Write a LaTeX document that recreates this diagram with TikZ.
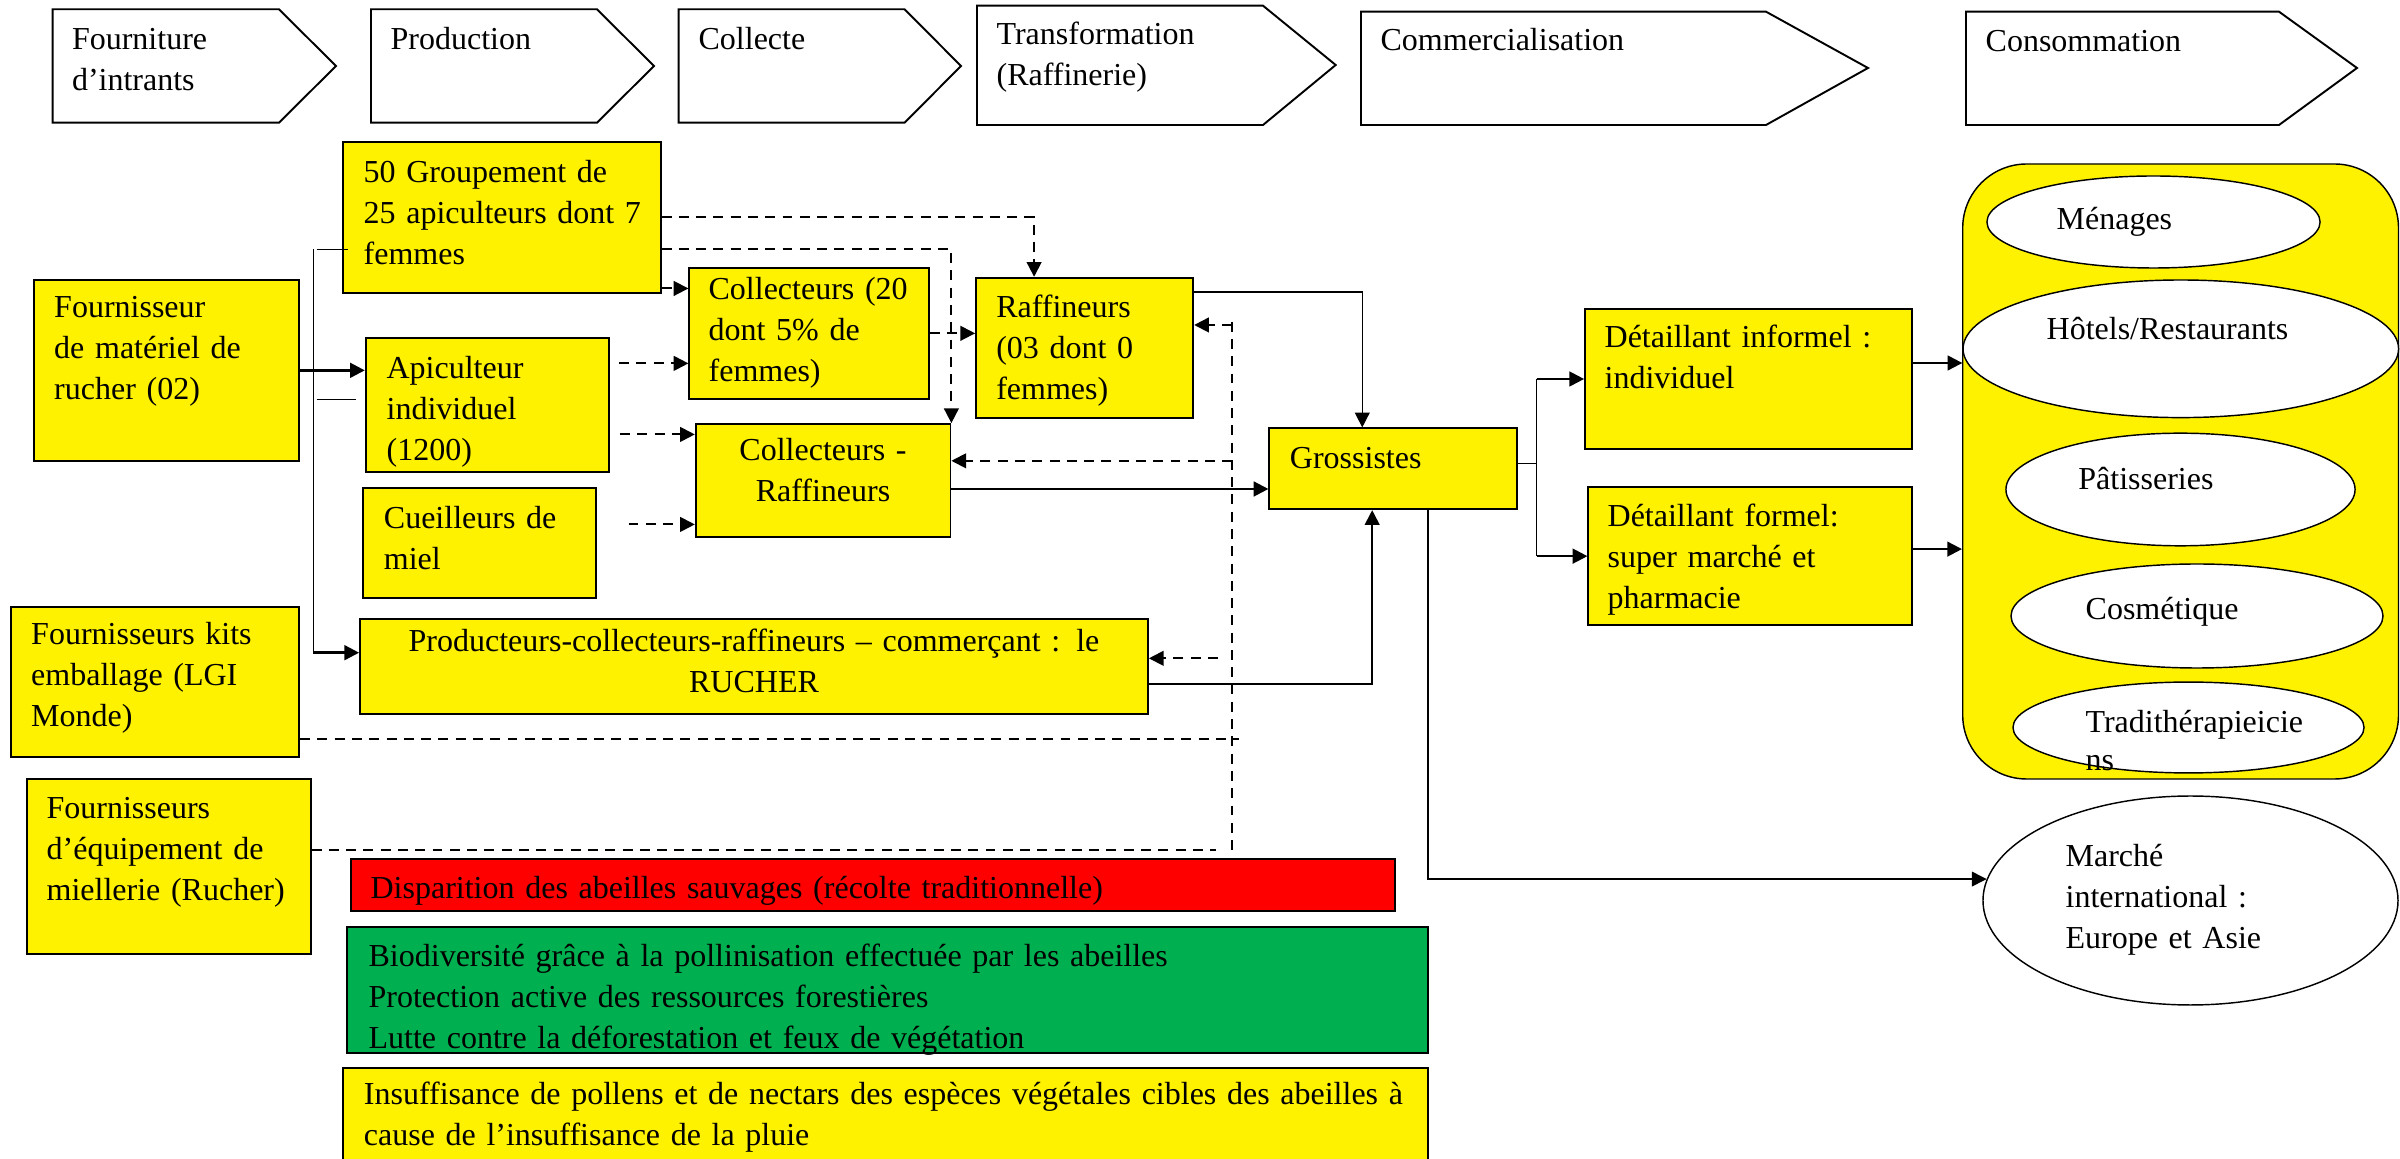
\documentclass[tikz,border=0pt]{standalone}
\usepackage{fontspec}
\setmainfont{Liberation Serif}
\usetikzlibrary{positioning,fit,arrows.meta,shapes.geometric}
\definecolor{vert}{HTML}{00B050}

\begin{document}
\begin{tikzpicture}[x=0.3125pt, y=-0.3125pt, >={Triangle[length=4.6pt,width=4.6pt]},
    font=\fontsize{10}{12.8}\selectfont,
    box/.style={draw, line width=0.55pt, fill=yellow, inner sep=0pt},
    txt/.style={anchor=base west, inner sep=0pt, text width=420pt, align=left},
    stage/.style={draw, line width=0.6pt, fill=white},
    oval/.style={draw, ellipse, line width=0.45pt, fill=white, inner sep=0pt},
    link/.style={line width=0.45pt},
    dsh/.style={line width=0.6pt, dash pattern=on 3.1pt off 2.3pt}]
  \useasboundingbox (0,0) rectangle (2400,1159);

  % value chain stages
  \draw[stage] (52.6,9.3) -- (279,9.3) -- (336,66) -- (279,122.7) -- (52.6,122.7) -- cycle;
  \draw[stage] (371,9.3) -- (597,9.3) -- (654,66) -- (597,122.7) -- (371,122.7) -- cycle;
  \draw[stage] (678.6,9.3) -- (904.6,9.3) -- (961,66) -- (904.6,122.7) -- (678.6,122.7) -- cycle;
  \draw[stage] (977,5.7) -- (1263,5.7) -- (1335.7,65) -- (1263,125) -- (977,125) -- cycle;
  \draw[stage] (1361,11.7) -- (1766,11.7) -- (1868,68) -- (1766,125) -- (1361,125) -- cycle;
  \draw[stage] (1966,11.7) -- (2279,11.7) -- (2357,68) -- (2279,125) -- (1966,125) -- cycle;
  \node[txt] (st-four) at (71.4,50) {Fourniture\\d’intrants};
  \node[txt] (st-prod) at (390,50) {Production};
  \node[txt] (st-coll) at (698,50) {Collecte};
  \node[txt] (st-trans) at (996,45) {Transformation\\(Raffinerie)};
  \node[txt] (st-comm) at (1380,51) {Commercialisation};
  \node[txt] (st-cons) at (1985,52) {Consommation};

  % actors
  \node[box, fit={(34,280) (299.3,460.7)}] (fmr) {};
  \node[txt] (fmr-t) at (53.6,318) {Fournisseur\\de matériel de\\rucher (02)};
  \node[box, fit={(11,606.7) (299.3,756.7)}] (fkit) {};
  \node[txt] (fkit-t) at (30.6,645) {Fournisseurs kits\\emballage (LGI\\Monde)};
  \node[box, fit={(27,779) (310.7,954)}] (feq) {};
  \node[txt] (feq-t) at (46,818.3) {Fournisseurs\\d’équipement de\\miellerie (Rucher)};
  \node[box, fit={(343.3,141.7) (660.7,292.7)}] (grp) {};
  \node[txt] (grp-t) at (363,183) {50 Groupement de\\25 apiculteurs dont 7\\femmes};
  \node[box, fit={(365.7,337.7) (609,472.3)}] (api) {};
  \node[txt] (api-t) at (386,378.3) {Apiculteur\\individuel\\(1200)};
  \node[box, fit={(363,488.3) (596,597.7)}] (cue) {};
  \node[txt] (cue-t) at (383.3,528.3) {Cueilleurs de\\miel};
  \node[box, fit={(360,619.3) (1148,714)}] (prod) {};
  \node[txt, anchor=base, text width=240pt, align=center] (prod-t) at (754,652) {Producteurs-collecteurs-raffineurs – commerçant : le\\RUCHER};
  \node[box, fit={(689.3,267.7) (929,399)}] (col) {};
  \node[txt] (col-t) at (708,300) {Collecteurs (20\\dont 5\% de\\femmes)};
  \node[box, fit={(695.7,424) (950.5,536.7)}] (colraf) {};
  \node[txt, anchor=base, text width=75pt, align=center] (colraf-t) at (823,461) {Collecteurs -\\Raffineurs};
  \node[box, fit={(976,277.7) (1193.3,417.7)}] (raf) {};
  \node[txt] (raf-t) at (995.6,318) {Raffineurs\\(03 dont 0\\femmes)};
  \node[box, fit={(1269.3,428.3) (1517.3,509.3)}] (gros) {};
  \node[txt] (gros-t) at (1289.3,468.3) {Grossistes};
  \node[box, fit={(1585,309) (1912,449)}] (detinf) {};
  \node[txt] (detinf-t) at (1604,348) {Détaillant informel :\\individuel};
  \node[box, fit={(1588.3,487.3) (1912,625)}] (detfor) {};
  \node[txt] (detfor-t) at (1607,527) {Détaillant formel:\\super marché et\\pharmacie};

  % impacts
  \node[box, fill=red, fit={(351,859) (1395,911)}] (disp) {};
  \node[txt] (disp-t) at (370,898.3) {Disparition des abeilles sauvages (récolte traditionnelle)};
  \node[box, fill=vert, fit={(347.3,927) (1428,1053.3)}] (bio) {};
  \node[txt] (bio-t) at (368,966.7) {Biodiversité grâce à la pollinisation effectuée par les abeilles\\Protection active des ressources forestières\\Lutte contre la déforestation et feux de végétation};
  \node[box, fit={(343.3,1068.3) (1428,1180)}] (insuf) {};
  \node[txt] (insuf-t) at (363.3,1105) {Insuffisance de pollens et de nectars des espèces végétales cibles des abeilles à\\cause de l’insuffisance de la pluie};

  % consumers
  \node[box, rounded corners=20pt, line width=0.45pt, fit={(1962.7,164) (2398.5,779)}] (cons) {};
  \node[oval, minimum width=104.1pt, minimum height=28.75pt] (men) at (2153.5,222) {};
  \node[txt] (men-t) at (2056,229.3) {Ménages};
  \node[oval, minimum width=136.1pt, minimum height=43pt] (hot) at (2180.8,348.8) {};
  \node[txt] (hot-t) at (2046,340) {Hôtels/Restaurants};
  \node[oval, minimum width=109.1pt, minimum height=35.2pt] (pat) at (2180.5,489.5) {};
  \node[txt] (pat-t) at (2077.7,490) {Pâtisseries};
  \node[oval, minimum width=116.25pt, minimum height=32.5pt] (cos) at (2197,616) {};
  \node[txt] (cos-t) at (2085,620) {Cosmétique};
  \node[oval, minimum width=109.7pt, minimum height=28.4pt] (tra) at (2188.5,727.5) {};
  \node[txt] (tra-t) at (2085,733) {Tradithérapieicie\\[-1.2pt]ns};
  \node[oval, minimum width=129.7pt, minimum height=65.3pt] (mar) at (2190.5,900.5) {};
  \node[txt] (mar-t) at (2065,866.7) {Marché\\international :\\Europe et Asie};

  % supply tree on the left
  \coordinate (trk-top) at (313.3,249.3);
  \coordinate (trk-bot) at (313.3,652.7);
  \coordinate (trk-mid) at (316.7,399.3);
  \draw[link] (trk-top) -- (trk-bot);
  \draw[link] ([xshift=1pt]trk-top) -- ([xshift=1.8pt]grp.west |- trk-top);
  \draw[link] (trk-mid) -- ([xshift=-2.8pt]api.west |- trk-mid);
  \draw[link, line width=0.75pt, ->] (fmr.east) -- (fmr.east -| api.west);
  \draw[link, line width=0.75pt, ->] (trk-bot) -- (trk-bot -| prod.west);

  % solid flows
  \draw[link, ->] ([yshift=-4.7pt]raf.north east) -| ([xshift=-9.7pt]gros.north);
  \draw[link, line width=0.75pt, ->] ([yshift=-2.7pt]colraf.east) -- ([yshift=-2.7pt]colraf.east -| gros.west);
  \draw[link, line width=0.6pt, ->] ([yshift=-5.4pt]prod.east) -| ([xshift=-6.6pt]gros.south);
  \coordinate (split) at (1536.7,463.3);
  \draw[link] (gros.east |- split) -- (split);
  \draw[link] (split |- detinf.west) -- (split |- detfor.west);
  \draw[link, line width=0.7pt, ->] (split |- detinf.west) -- (detinf.west);
  \draw[link, line width=0.7pt, ->] (split |- detfor.west) -- (detfor.west);
  \draw[link, ->] ([xshift=10.9pt]gros.south) |- (mar.174.5);
  \draw[link, line width=0.7pt, ->] ([yshift=5pt]detinf.east) -- ([yshift=5pt]detinf.east -| hot.west);
  \draw[link, line width=0.7pt, ->] ([yshift=2.2pt]detfor.east) -- ([yshift=2.2pt]detfor.east -| cons.west);

  % dashed flows
  \draw[dsh, ->] (grp.east) -| ([xshift=-15.8pt]raf.north);
  \draw[dsh, ->] ([yshift=-10pt]grp.east) -| (colraf.north east);
  \draw[dsh, ->] ([yshift=1.6pt]grp.south east) -- ([yshift=1.6pt]grp.south east -| col.west);
  \draw[dsh, ->] ([xshift=2.9pt,yshift=13pt]api.east) -- ([yshift=13pt]api.east -| col.west);
  \draw[dsh, ->] ([xshift=3.2pt,yshift=-9.2pt]api.east) -- ([yshift=-9.2pt]api.east -| colraf.west);
  \draw[dsh, ->] ([xshift=9.9pt,yshift=5.8pt]cue.east) -- ([yshift=5.8pt]cue.east -| colraf.west);
  \draw[dsh, ->] (col.east) -- (col.east -| raf.west);

  % dashed return line
  \coordinate (vt) at (1232.3,321.7);
  \coordinate (vb) at (1232.3,850);
  \draw[dsh] (vt) -- (vb);
  \draw[dsh, ->] ([yshift=7.1pt]raf.east -| vt) -- ([yshift=7.1pt]raf.east);
  \draw[dsh, ->] ([yshift=6.1pt]colraf.east -| vt) -- ([yshift=6.1pt]colraf.east);
  \draw[dsh, ->] ([xshift=-4.5pt,yshift=2.6pt]prod.east -| vt) -- ([yshift=2.6pt]prod.east);
  \draw[dsh] ([yshift=-17.8pt]fkit.east) -- ([xshift=2.1pt,yshift=-17.8pt]fkit.east -| vt);
  \draw[dsh] ([yshift=5.2pt]feq.east) -- ([xshift=-5pt,yshift=5.2pt]feq.east -| vt);
\end{tikzpicture}
\end{document}
